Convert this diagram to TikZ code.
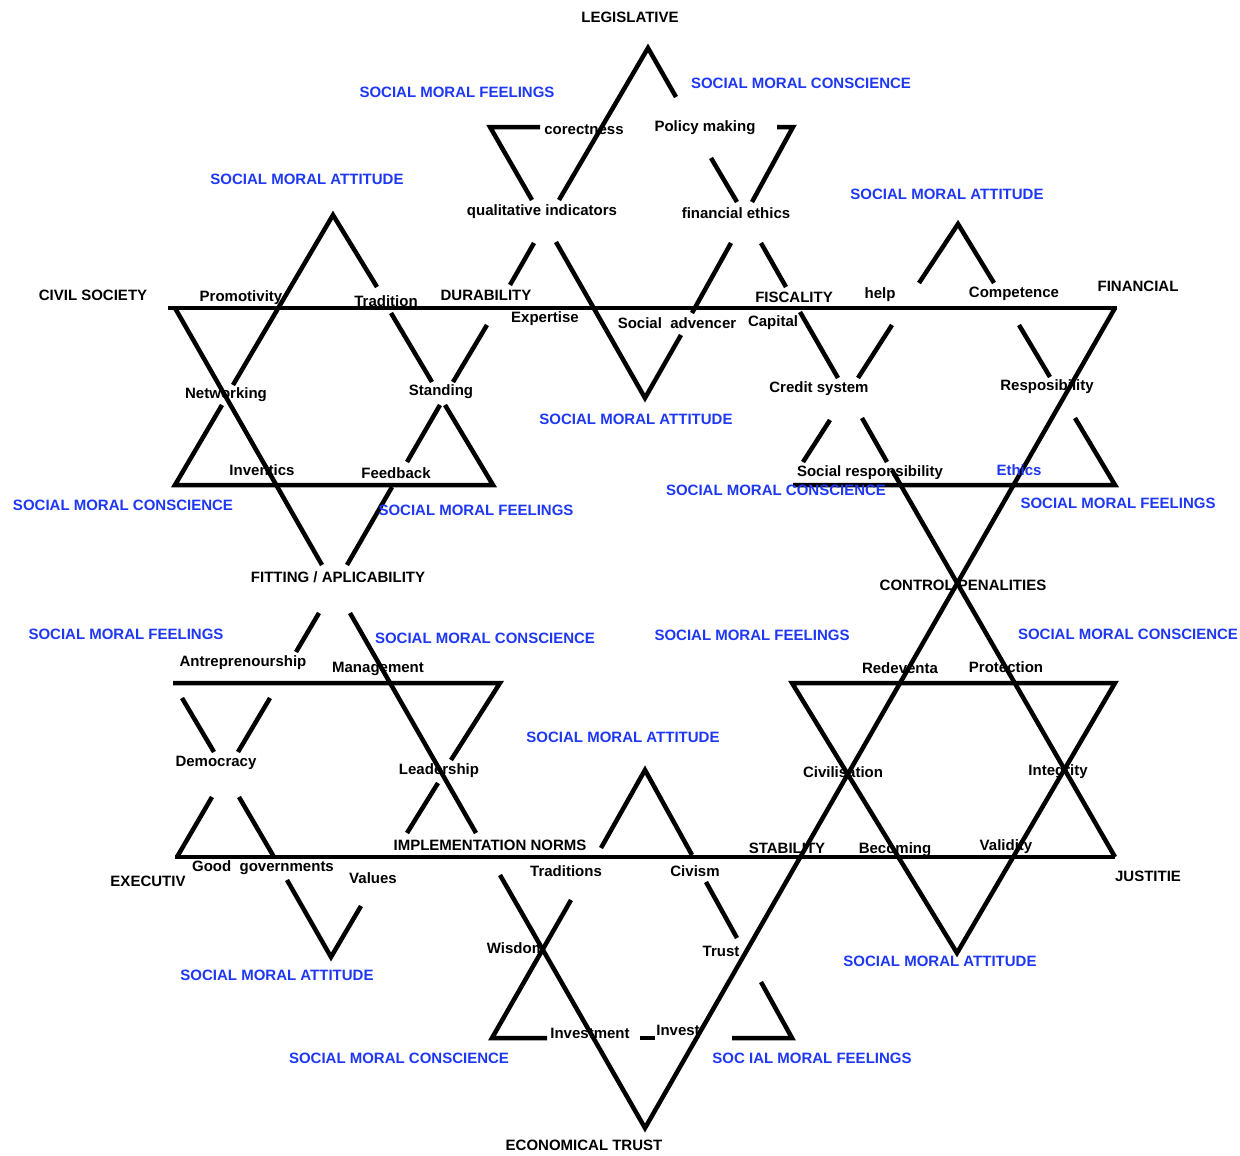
\documentclass[tikz,border=0pt]{standalone}
\usepackage{fontspec}
\setmainfont{Liberation Sans}
\definecolor{smblue}{RGB}{30,55,245}
\begin{document}
\begin{tikzpicture}[x=1pt, y=-1pt,
    bar/.style={line width=4.5pt, line join=miter},
    word/.style={font=\bfseries\fontsize{15}{17}\selectfont, inner sep=0pt},
    moral/.style={word, text=smblue}]
    \useasboundingbox (0,0) rectangle (1240,1156);

    % Big star: the two long horizontals
    \draw[bar] (168,308) -- (1117,308);
    \draw[bar] (175,857) -- (1115,857);

    % Big star: side from the top point down to the left
    \draw[bar] (559,200) -- (648,48) -- (676,97);
    \draw[bar] (534,243) -- (510,285);
    \draw[bar] (487,325) -- (453,382);
    \draw[bar] (440,405) -- (407,462);
    \draw[bar] (392,487) -- (347,565);
    \draw[bar] (319,613) -- (296,652);
    \draw[bar] (270,698) -- (238,752);
    \draw[bar] (212,797) -- (177,857);

    % Big star: side from the top point down to the right
    \draw[bar] (711,158) -- (737,202);
    \draw[bar] (761,243) -- (786,287);
    \draw[bar] (800,312) -- (838,378);
    \draw[bar] (862,418) -- (887,462);
    \draw[bar] (892,470) -- (1115,857);

    % Big star: the downward triangle
    \draw[bar] (175,308) -- (322,565);
    \draw[bar] (350,613) -- (476,833);
    \draw[bar] (500,875) -- (645,1128) -- (1115,308);

    % Legislative star
    \draw[bar] (540,127) -- (490,127) -- (532,200);
    \draw[bar] (556,242) -- (645,398) -- (681,335);
    \draw[bar] (777,127) -- (793,127) -- (752,202);
    \draw[bar] (731,243) -- (692,313);

    % Civil society star
    \draw[bar] (233,385) -- (333,215) -- (377,287);
    \draw[bar] (391,313) -- (432,382);
    \draw[bar] (445,405) -- (493,485) -- (175,485) -- (222,405);

    % Financial star
    \draw[bar] (919,283) -- (958,224) -- (994,283);
    \draw[bar] (892,325) -- (858,378);
    \draw[bar] (830,420) -- (803,462);
    \draw[bar] (1019,325) -- (1050,377);
    \draw[bar] (1075,418) -- (1115,485) -- (793,485);

    % Justitie star
    \draw[bar] (792,683) -- (1115,683) -- (957,953) -- cycle;

    % Executiv star
    \draw[bar] (182,698) -- (214,752);
    \draw[bar] (239,797) -- (274,857);
    \draw[bar] (287,880) -- (331,957) -- (361,906);
    \draw[bar] (173,683) -- (500,683) -- (451,760);
    \draw[bar] (438,783) -- (407,833);

    % Economical trust star
    \draw[bar] (601,848) -- (645,770) -- (692,855);
    \draw[bar] (571,900) -- (492,1038) -- (547,1038);
    \draw[bar] (706,882) -- (737,938);
    \draw[bar] (761,982) -- (792,1038) -- (732,1038);
    \draw[bar] (640,1038) -- (655,1038);

    % Point names
    \node[word] (leg) at (630,17) {LEGISLATIVE};
    \node[word] (civil) at (93,295) {CIVIL SOCIETY};
    \node[word] (financ) at (1138,286) {FINANCIAL};
    \node[word] (fitting) at (338,577) {FITTING / APLICABILITY};
    \node[word] (control) at (963,585) {CONTROL PENALITIES};
    \node[word] (execut) at (148,881) {EXECUTIV};
    \node[word] (justitie) at (1148,876) {JUSTITIE};
    \node[word] (econ) at (584,1145) {ECONOMICAL TRUST};

    % Words in the legislative star
    \node[word] (corr) at (584,130) {corectness};
    \node[word] (policy) at (705,128) {Policy making};
    \node[word] (qualind) at (542,212) {qualitative indicators};
    \node[word] (fineth) at (736,213) {financial ethics};
    \node[word] (durab) at (486,295) {DURABILITY};
    \node[word] (expert) at (545,319) {Expertise};
    \node[word] (socadv) at (677,323) {Social\ \ advencer};
    \node[word] (capital) at (773,323) {Capital};
    \node[word] (fiscal) at (794,297) {FISCALITY};

    % Words in the civil society star
    \node[word] (promo) at (241,298) {Promotivity};
    \node[word] (tradit) at (386,301) {Tradition};
    \node[word] (network) at (226,395) {Networking};
    \node[word] (standing) at (441,392) {Standing};
    \node[word] (invent) at (262,470) {Inventics};
    \node[word] (feedback) at (396,473) {Feedback};

    % Words in the financial star
    \node[word] (help) at (880,295) {help};
    \node[word] (compet) at (1014,294) {Competence};
    \node[word] (credit) at (819,389) {Credit system};
    \node[word] (respons) at (1047,387) {Resposibility};
    \node[word] (socresp) at (870,473) {Social responsibility};
    \node[moral] (ethics) at (1019,470) {Ethics};

    % Words in the justitie star
    \node[word] (redev) at (900,668) {Redeventa};
    \node[word] (protect) at (1006,667) {Protection};
    \node[word] (civilis) at (843,772) {Civilisation};
    \node[word] (integ) at (1058,772) {Integrity};
    \node[word] (stabil) at (787,848) {STABILITY};
    \node[word] (becoming) at (895,850) {Becoming};
    \node[word] (validity) at (1006,847) {Validity};

    % Words in the executiv star
    \node[word] (antrep) at (243,663) {Antreprenourship};
    \node[word] (manage) at (378,669) {Management};
    \node[word] (democ) at (216,763) {Democracy};
    \node[word] (leader) at (439,771) {Leadership};
    \node[word] (implem) at (490,845) {IMPLEMENTATION NORMS};
    \node[word] (goodgov) at (263,868) {Good\ \ governments};
    \node[word] (values) at (373,878) {Values};

    % Words in the economical trust star
    \node[word] (traditions) at (566,871) {Traditions};
    \node[word] (civism) at (695,871) {Civism};
    \node[word] (wisdom) at (516,948) {Wisdom};
    \node[word] (trust) at (721,951) {Trust};
    \node[word] (investment) at (590,1033) {Investment};
    \node[word] (invest) at (678,1030) {Invest};

    % Social moral labels
    \node[moral] (feel1) at (457,92) {SOCIAL MORAL FEELINGS};
    \node[moral] (consc1) at (801,83) {SOCIAL MORAL CONSCIENCE};
    \node[moral] (att1) at (307,179) {SOCIAL MORAL ATTITUDE};
    \node[moral] (att2) at (947,194) {SOCIAL MORAL ATTITUDE};
    \node[moral] (att3) at (636,419) {SOCIAL MORAL ATTITUDE};
    \node[moral] (consc2) at (123,505) {SOCIAL MORAL CONSCIENCE};
    \node[moral] (feel2) at (476,510) {SOCIAL MORAL FEELINGS};
    \node[moral] (consc3) at (776,490) {SOCIAL MORAL CONSCIENCE};
    \node[moral] (feel3) at (1118,503) {SOCIAL MORAL FEELINGS};
    \node[moral] (feel4) at (126,634) {SOCIAL MORAL FEELINGS};
    \node[moral] (consc4) at (485,638) {SOCIAL MORAL CONSCIENCE};
    \node[moral] (feel5) at (752,635) {SOCIAL MORAL FEELINGS};
    \node[moral] (consc5) at (1128,634) {SOCIAL MORAL CONSCIENCE};
    \node[moral] (att4) at (623,737) {SOCIAL MORAL ATTITUDE};
    \node[moral] (att5) at (277,975) {SOCIAL MORAL ATTITUDE};
    \node[moral] (att6) at (940,961) {SOCIAL MORAL ATTITUDE};
    \node[moral] (consc6) at (399,1058) {SOCIAL MORAL CONSCIENCE};
    \node[moral] (feel6) at (812,1058) {SOC IAL MORAL FEELINGS};
\end{tikzpicture}
\end{document}
